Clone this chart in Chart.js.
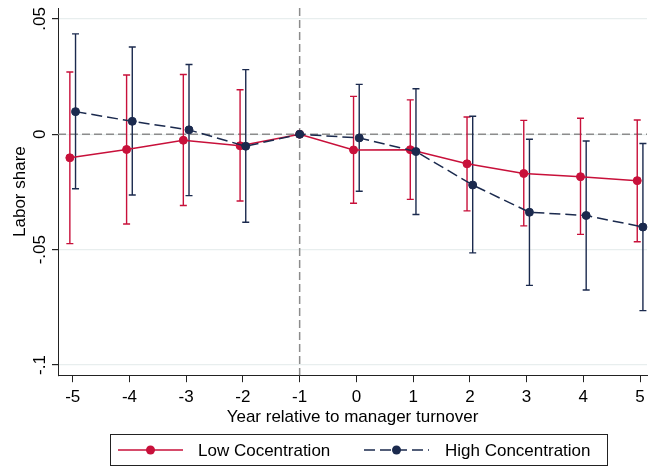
<!DOCTYPE html>
<html>
<head>
<meta charset="utf-8">
<script src="https://cdn.jsdelivr.net/npm/chart.js@4.4.0/dist/chart.umd.min.js"></script>
<style>
  html, body { margin: 0; padding: 0; background: #fff; }
  #wrap { width: 652px; height: 467px; position: relative; }
</style>
</head>
<body>
<div id="wrap"><canvas id="grafico"></canvas></div>
<script>
// datos
var years = [-5, -4, -3, -2, -1, 0, 1, 2, 3, 4, 5];
var lowCoef = [-0.0102, -0.0066, -0.0026, -0.0050, 0, -0.0068, -0.0067, -0.0128, -0.0170, -0.0184, -0.0201];
var lowLo   = [-0.0474, -0.0389, -0.0309, -0.0289, null, -0.0299, -0.0282, -0.0332, -0.0397, -0.0434, -0.0466];
var lowHi   = [0.0270, 0.0257, 0.0259, 0.0193, null, 0.0164, 0.0149, 0.0075, 0.0060, 0.0069, 0.0062];
var highCoef = [0.0098, 0.0056, 0.0019, -0.0052, 0, -0.0016, -0.0075, -0.0220, -0.0338, -0.0352, -0.0402];
var highLo   = [-0.0236, -0.0263, -0.0266, -0.0381, null, -0.0247, -0.0348, -0.0514, -0.0655, -0.0675, -0.0764];
var highHi   = [0.0435, 0.0378, 0.0302, 0.0280, null, 0.0216, 0.0197, 0.0078, -0.0022, -0.0029, -0.0040];
var yTicks = [-0.1, -0.05, 0, 0.05];
var yTickLabels = ["-.1", "-.05", "0", ".05"];
var refYear = -1;

var rojo = "#c8103a";
var azul = "#1b2a4e";
var fuente = "'Liberation Sans', Arial, sans-serif";

function puntos(coef, shift){
    return years.map(function(yr, i){
        return { x: yr === refYear ? yr : yr + shift, y: coef[i] };
    });
}

var lowData = puntos(lowCoef, -0.05);
var highData = puntos(highCoef, 0.05);

// barras de error + lineas de referencia
var barrasPlugin = {
    id: "barras",
    beforeDatasetsDraw: function(chart){
        var ctx = chart.ctx, xs = chart.scales.x, ys = chart.scales.y, area = chart.chartArea;
        ctx.save();
        ctx.strokeStyle = "#8c8c8c";
        ctx.lineWidth = 1.5;
        ctx.setLineDash([8, 4]);
        var y0 = ys.getPixelForValue(0);
        ctx.beginPath(); ctx.moveTo(area.left, y0); ctx.lineTo(area.right, y0); ctx.stroke();
        var xr = xs.getPixelForValue(refYear);
        ctx.beginPath(); ctx.moveTo(xr, area.top); ctx.lineTo(xr, area.bottom); ctx.stroke();
        ctx.setLineDash([]);

        var series = [[lowData, lowLo, lowHi, rojo], [highData, highLo, highHi, azul]];
        series.forEach(function(s){
            ctx.strokeStyle = s[3];
            ctx.lineWidth = 1.4;
            s[0].forEach(function(p, i){
                if (s[1][i] === null) return;
                var px = xs.getPixelForValue(p.x);
                var a = ys.getPixelForValue(s[1][i]);
                var b = ys.getPixelForValue(s[2][i]);
                ctx.beginPath();
                ctx.moveTo(px, a); ctx.lineTo(px, b);
                ctx.moveTo(px - 3.5, a); ctx.lineTo(px + 3.5, a);
                ctx.moveTo(px - 3.5, b); ctx.lineTo(px + 3.5, b);
                ctx.stroke();
            });
        });
        ctx.restore();
    },
    afterDraw: function(chart){
        var ctx = chart.ctx, ys = chart.scales.y;
        ctx.save();
        // etiquetas del eje y giradas
        ctx.fillStyle = "#000";
        ctx.font = "17px " + fuente;
        ctx.textAlign = "center";
        ctx.textBaseline = "middle";
        yTicks.forEach(function(v, i){
            ctx.save();
            ctx.translate(40, ys.getPixelForValue(v));
            ctx.rotate(-Math.PI / 2);
            ctx.fillText(yTickLabels[i], 0, 0);
            ctx.restore();
        });

        // leyenda
        ctx.strokeStyle = "#222";
        ctx.lineWidth = 1;
        ctx.strokeRect(110.5, 434.5, 497, 31);
        var ly = 450;
        ctx.strokeStyle = rojo; ctx.lineWidth = 1.5;
        ctx.beginPath(); ctx.moveTo(118, ly); ctx.lineTo(183, ly); ctx.stroke();
        ctx.fillStyle = rojo;
        ctx.beginPath(); ctx.arc(150.5, ly, 4.5, 0, Math.PI * 2); ctx.fill();
        ctx.strokeStyle = azul;
        ctx.setLineDash([11, 5]);
        ctx.beginPath(); ctx.moveTo(364, ly); ctx.lineTo(429, ly); ctx.stroke();
        ctx.setLineDash([]);
        ctx.fillStyle = azul;
        ctx.beginPath(); ctx.arc(396.5, ly, 4.5, 0, Math.PI * 2); ctx.fill();
        ctx.fillStyle = "#000";
        ctx.textAlign = "left";
        ctx.fillText("Low Cocentration", 198, ly + 1);
        ctx.fillText("High Concentration", 445, ly + 1);
        ctx.restore();
    }
};

var ctx = document.getElementById("grafico");

new Chart(ctx, {
    type: "line",
    data: {
        datasets: [{
            label: "Low Cocentration",
            data: lowData,
            borderColor: rojo,
            backgroundColor: rojo,
            borderWidth: 1.5,
            pointRadius: 4,
            pointBorderWidth: 1,
            pointBackgroundColor: rojo,
            fill: false,
            order: 2
        }, {
            label: "High Concentration",
            data: highData,
            borderColor: azul,
            backgroundColor: azul,
            borderWidth: 1.5,
            borderDash: [11, 5],
            pointRadius: 4,
            pointBorderWidth: 1,
            pointBackgroundColor: azul,
            fill: false,
            order: 1
        }]
    },
    options: {
        responsive: true,
        maintainAspectRatio: false,
        animation: false,
        clip: false,
        layout: { padding: { top: 8, left: 0, right: 0, bottom: 36 } },
        plugins: {
            legend: { display: false },
            tooltip: { enabled: false }
        },
        scales: {
            x: {
                type: "linear",
                min: -5.259,
                max: 5.122,
                afterBuildTicks: function(scale){
                    scale.ticks = years.map(function(v){ return { value: v }; });
                },
                ticks: {
                    color: "#000",
                    font: { family: fuente, size: 17 },
                    padding: 5,
                    maxRotation: 0,
                    callback: function(v){ return String(v); }
                },
                grid: { drawOnChartArea: false, drawTicks: true, tickLength: 7, tickColor: "#222", lineWidth: 1 },
                border: { display: true, color: "#222", width: 1 },
                title: {
                    display: true,
                    text: "Year relative to manager turnover",
                    color: "#000",
                    font: { family: fuente, size: 17 },
                    padding: { top: -5, bottom: 3 }
                }
            },
            y: {
                type: "linear",
                min: -0.1044,
                max: 0.0547,
                afterBuildTicks: function(scale){
                    scale.ticks = yTicks.map(function(v){ return { value: v }; });
                },
                ticks: { display: false },
                grid: { color: "#e8eeee", lineWidth: 1.2, drawTicks: true, tickLength: 6, tickColor: "#222" },
                border: { display: true, color: "#222", width: 1 },
                title: {
                    display: true,
                    text: "Labor share",
                    color: "#000",
                    font: { family: fuente, size: 17 },
                    padding: { top: 10, bottom: 21.6 }
                }
            }
        }
    },
    plugins: [barrasPlugin]
});
</script>
</body>
</html>
